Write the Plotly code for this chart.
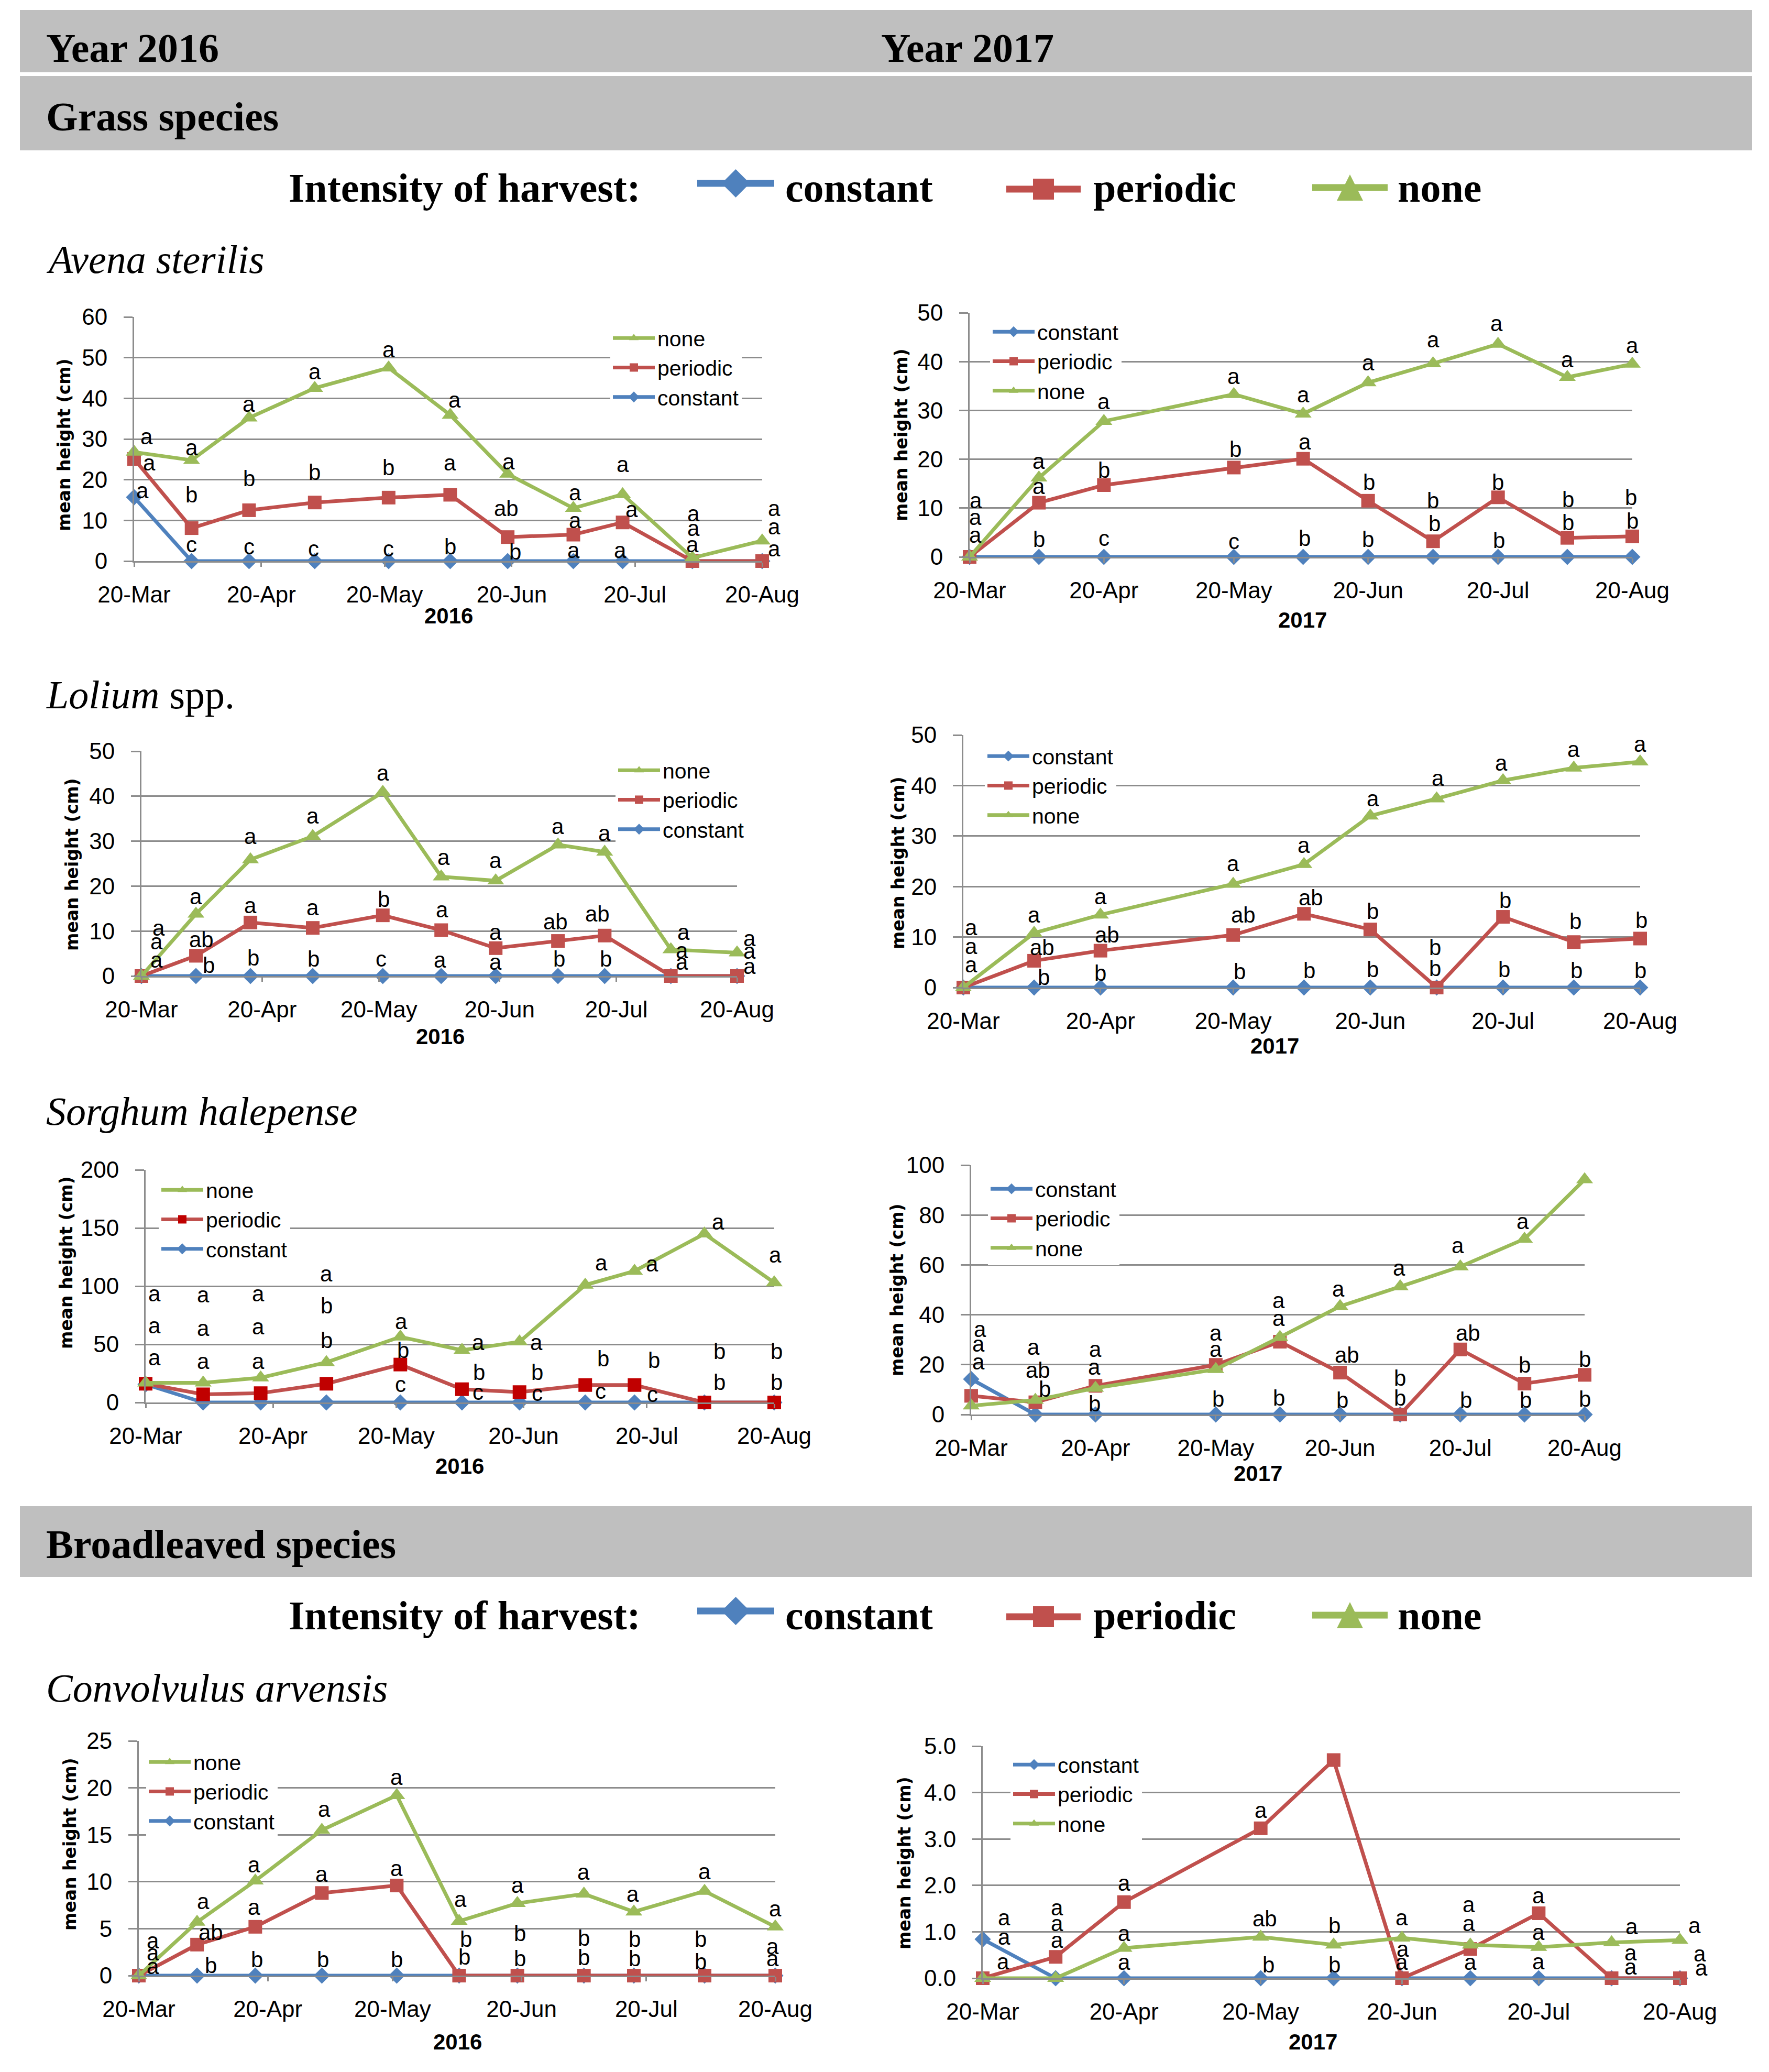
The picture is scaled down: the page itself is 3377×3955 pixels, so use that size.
import plotly.graph_objects as go

W, H = 3377, 3955
OFF = 8  # the page body adds an 8 px margin around the figure
BLUE, RED, GREEN = "#4F81BD", "#C0504D", "#9BBB59"
GRID = "#8C8C8C"
BAR = "#BFBFBF"
SERIF = "Liberation Serif"
SANS = "Liberation Sans"
WIDE = "Verdana, 'DejaVu Sans', 'Bitstream Vera Sans', sans-serif"

# ---------------------------------------------------------------- data
DATES_2016 = ["2016-03-20", "2016-04-03", "2016-04-17", "2016-05-03", "2016-05-21", "2016-06-05",
              "2016-06-19", "2016-07-05", "2016-07-17", "2016-08-03", "2016-08-20"]
DATES_2017 = ["2017-03-20", "2017-04-05", "2017-04-20", "2017-05-20", "2017-06-05",
              "2017-06-20", "2017-07-05", "2017-07-20", "2017-08-05", "2017-08-20"]
TICKS_2016 = ["2016-03-20", "2016-04-20", "2016-05-20", "2016-06-20", "2016-07-20", "2016-08-20"]
TICKS_2017 = ["2017-03-20", "2017-04-20", "2017-05-20", "2017-06-20", "2017-07-20", "2017-08-20"]

AVENA16_NONE = [26.8, 24.8, 35.2, 42.5, 47.5, 35.9, 21.4, 13.0, 16.4, 0.8, 5.0]
AVENA16_PERIODIC = [25.1, 8.1, 12.5, 14.4, 15.6, 16.3, 5.9, 6.5, 9.5, 0, 0]
AVENA16_CONSTANT = [15.7, 0, 0, 0, 0, 0, 0, 0, 0, 0, 0]

AVENA17_NONE = [0, 16.2, 27.8, 33.3, 29.3, 35.7, 39.6, 43.6, 36.8, 39.5]
AVENA17_PERIODIC = [0, 11.1, 14.7, 18.3, 20.1, 11.5, 3.2, 12.2, 3.9, 4.2]
AVENA17_CONSTANT = [0, 0, 0, 0, 0, 0, 0, 0, 0, 0]

LOLIUM16_NONE = [0, 13.8, 25.9, 31.1, 40.9, 22.1, 21.2, 29.2, 27.6, 5.9, 5.2]
LOLIUM16_PERIODIC = [0, 4.5, 11.9, 10.7, 13.5, 10.2, 6.2, 7.8, 9.0, 0, 0]
LOLIUM16_CONSTANT = [0, 0, 0, 0, 0, 0, 0, 0, 0, 0, 0]

LOLIUM17_NONE = [0, 10.8, 14.4, 20.5, 24.4, 34.0, 37.4, 41.0, 43.5, 44.7]
LOLIUM17_PERIODIC = [0, 5.3, 7.3, 10.4, 14.6, 11.5, 0, 14.0, 9.0, 9.7]
LOLIUM17_CONSTANT = [0, 0, 0, 0, 0, 0, 0, 0, 0, 0]

SORGHUM16_NONE = [16.9, 16.9, 21.3, 34.5, 56.4, 45.0, 52.2, 101, 113, 145, 103]
SORGHUM16_PERIODIC = [16.1, 7.0, 8.0, 16.1, 32.6, 11.4, 8.9, 15.0, 15.0, 0, 0]
SORGHUM16_CONSTANT = [15.6, 0, 0, 0, 0, 0, 0, 0, 0, 0, 0]

SORGHUM17_NONE = [3.5, 5.8, 10.6, 18.1, 31.0, 43.4, 51.3, 59.3, 70.4, 94.2]
SORGHUM17_PERIODIC = [7.5, 4.9, 11.5, 19.9, 29.2, 16.8, 0, 26.1, 12.4, 15.9]
SORGHUM17_CONSTANT = [14.2, 0, 0, 0, 0, 0, 0, 0, 0, 0]

CONVOLVULUS16_NONE = [0, 5.7, 10.1, 15.5, 19.2, 5.8, 7.7, 8.7, 6.8, 9.0, 5.2]
CONVOLVULUS16_PERIODIC = [0, 3.3, 5.2, 8.8, 9.6, 0, 0, 0, 0, 0, 0]
CONVOLVULUS16_CONSTANT = [0, 0, 0, 0, 0, 0, 0, 0, 0, 0, 0]

CONVOLVULUS17_NONE = [0, 0, 0.65, 0.89, 0.72, 0.87, 0.72, 0.67, 0.77, 0.82]
CONVOLVULUS17_PERIODIC = [0, 0.46, 1.64, 3.23, 4.70, 0, 0.63, 1.40, 0, 0]
CONVOLVULUS17_CONSTANT = [0.84, 0, 0, 0, 0, 0, 0, 0, 0, 0]

# significance letters: (date index, letter, height in cm, x nudge px)
AVENA16_LETTERS = [
    (0, "a", 30.6, 24), (0, "a", 24.1, 29), (0, "a", 17.3, 16),
    (1, "a", 27.9, 0), (1, "b", 16.3, 0), (1, "c", 4.1, 0),
    (2, "a", 38.5, 0), (2, "b", 20.3, 0), (2, "c", 3.5, 0),
    (3, "a", 46.6, 0), (3, "b", 21.8, 0), (3, "c", 3.0, -2),
    (4, "a", 52.0, 0), (4, "b", 23.0, 0), (4, "c", 3.0, 0),
    (5, "a", 39.6, 9), (5, "a", 24.1, 0), (5, "b", 3.5, 0),
    (6, "a", 24.4, 2), (6, "ab", 13.0, -3), (6, "b", 2.2, 14),
    (7, "a", 16.8, 3), (7, "a", 10.0, 3), (7, "a", 2.7, 0),
    (8, "a", 23.8, 0), (8, "a", 12.7, 17), (8, "a", 2.7, -5),
    (9, "a", 11.7, 2), (9, "a", 8.1, 2), (9, "a", 4.1, 0),
    (10, "a", 13.0, 23), (10, "a", 8.4, 23), (10, "a", 3.0, 23),
]
AVENA17_LETTERS = [
    (0, "a", 11.5, 12), (0, "a", 8.1, 11), (0, "a", 4.5, 11),
    (1, "a", 19.6, 0), (1, "a", 14.4, 0), (1, "b", 3.6, 0),
    (2, "a", 31.8, 0), (2, "b", 17.8, 0), (2, "c", 3.8, 0),
    (3, "a", 37.0, 0), (3, "b", 22.1, 3), (3, "c", 3.2, 0),
    (4, "a", 33.2, 0), (4, "a", 23.6, 3), (4, "b", 3.8, 3),
    (5, "a", 39.7, 0), (5, "b", 15.3, 2), (5, "b", 3.6, 0),
    (6, "a", 44.5, 0), (6, "b", 11.5, 0), (6, "b", 6.8, 3),
    (7, "a", 47.8, -3), (7, "b", 15.3, 0), (7, "b", 3.4, 2),
    (8, "a", 40.4, 0), (8, "b", 11.7, 2), (8, "b", 7.0, 2),
    (9, "a", 43.3, 0), (9, "b", 12.2, -3), (9, "b", 7.4, 0),
]
LOLIUM16_LETTERS = [
    (0, "a", 10.7, 33), (0, "a", 7.6, 29), (0, "a", 3.6, 29),
    (1, "a", 17.6, 0), (1, "ab", 8.1, 10), (1, "b", 2.4, 24),
    (2, "a", 31.1, 0), (2, "a", 15.7, 0), (2, "b", 4.0, 5),
    (3, "a", 35.6, 0), (3, "a", 15.2, 0), (3, "b", 3.8, 2),
    (4, "a", 45.2, 0), (4, "b", 17.1, 2), (4, "c", 3.8, -3),
    (5, "a", 26.4, 5), (5, "a", 14.7, 2), (5, "a", 3.6, -2),
    (6, "a", 25.7, 0), (6, "a", 9.7, 0), (6, "a", 3.1, 0),
    (7, "a", 33.3, 0), (7, "ab", 12.1, -5), (7, "b", 3.8, 2),
    (8, "a", 31.8, 0), (8, "ab", 13.8, -14), (8, "b", 3.8, 2),
    (9, "a", 9.7, 24), (9, "a", 5.7, 21), (9, "a", 3.1, 21),
    (10, "a", 8.3, 24), (10, "a", 5.5, 24), (10, "a", 2.1, 24),
]
LOLIUM17_LETTERS = [
    (0, "a", 11.9, 15), (0, "a", 8.1, 15), (0, "a", 4.5, 15),
    (1, "a", 14.4, 0), (1, "ab", 7.9, 15), (1, "b", 2.0, 18),
    (2, "a", 18.0, 0), (2, "ab", 10.4, 13), (2, "b", 2.9, 0),
    (3, "a", 24.5, 0), (3, "ab", 14.4, 19), (3, "b", 3.2, 12),
    (4, "a", 28.2, 0), (4, "ab", 17.8, 13), (4, "b", 3.4, 10),
    (5, "a", 37.4, 5), (5, "b", 15.1, 5), (5, "b", 3.6, 5),
    (6, "a", 41.4, 2), (6, "b", 7.9, -3), (6, "b", 3.8, -3),
    (7, "a", 44.4, -3), (7, "b", 17.3, 4), (7, "b", 3.6, 2),
    (8, "a", 47.1, 0), (8, "b", 13.1, 3), (8, "b", 3.4, 5),
    (9, "a", 48.2, 0), (9, "b", 13.3, 2), (9, "b", 3.4, 0),
]
SORGHUM16_LETTERS = [
    (0, "a", 93.4, 17), (0, "a", 65.8, 17), (0, "a", 38.3, 17),
    (1, "a", 92.4, 0), (1, "a", 63.9, 0), (1, "a", 35.5, 0),
    (2, "a", 93.4, -5), (2, "a", 64.9, -5), (2, "a", 35.5, -5),
    (3, "a", 110.4, 0), (3, "b", 82.9, 0), (3, "b", 53.5, 0),
    (4, "a", 69.6, 2), (4, "b", 45.0, 5), (4, "c", 15.6, 0),
    (5, "a", 51.6, 31), (5, "b", 26.0, 33), (5, "c", 8.9, 31),
    (6, "a", 51.6, 32), (6, "b", 26.0, 34), (6, "c", 8.0, 34),
    (7, "a", 120.0, 31), (7, "b", 37.4, 34), (7, "c", 9.9, 29),
    (8, "a", 119.0, 34), (8, "b", 36.4, 37), (8, "c", 7.0, 34),
    (9, "a", 155.0, 26), (9, "b", 44.0, 29), (9, "b", 17.5, 29),
    (10, "a", 126.6, 2), (10, "b", 44.0, 4), (10, "b", 17.5, 4),
]
SORGHUM17_LETTERS = [
    (0, "a", 34.1, 17), (0, "a", 28.3, 14), (0, "a", 21.2, 14),
    (1, "a", 27.0, -3), (1, "ab", 17.7, 5), (1, "b", 10.2, 18),
    (2, "a", 26.1, 0), (2, "a", 19.0, -2), (2, "b", 4.4, -2),
    (3, "a", 32.7, 0), (3, "a", 26.1, 0), (3, "b", 6.2, 5),
    (4, "a", 45.6, -2), (4, "a", 38.5, -2), (4, "b", 6.6, -2),
    (5, "a", 50.4, -3), (5, "ab", 23.9, 13), (5, "b", 5.8, 4),
    (6, "a", 58.8, -2), (6, "b", 14.6, 0), (6, "b", 6.6, 0),
    (7, "a", 67.7, -5), (7, "ab", 32.7, 15), (7, "b", 5.8, 11),
    (8, "a", 77.4, -3), (8, "b", 19.9, 0), (8, "b", 5.8, 2),
    (9, "a", 102.2, -3), (9, "b", 22.1, 0), (9, "b", 6.2, 0),
]
CONVOLVULUS16_LETTERS = [
    (0, "a", 3.7, 27), (0, "a", 2.4, 27), (0, "a", 1.0, 27),
    (1, "a", 7.9, 12), (1, "ab", 4.6, 26), (1, "b", 1.1, 26),
    (2, "a", 11.8, -2), (2, "a", 7.3, -2), (2, "b", 1.7, 3),
    (3, "a", 17.7, 5), (3, "a", 10.8, 0), (3, "b", 1.7, 2),
    (4, "a", 21.1, 0), (4, "a", 11.4, 0), (4, "b", 1.7, 0),
    (5, "a", 8.1, 3), (5, "b", 3.9, 13), (5, "b", 2.0, 10),
    (6, "a", 9.6, 0), (6, "b", 4.5, 5), (6, "b", 1.8, 5),
    (7, "a", 11.0, -1), (7, "b", 4.0, 0), (7, "b", 1.9, 0),
    (8, "a", 8.7, -2), (8, "b", 3.9, 1), (8, "b", 1.8, 1),
    (9, "a", 11.1, 0), (9, "b", 3.9, -8), (9, "b", 1.5, -8),
    (10, "a", 7.1, 0), (10, "a", 3.1, -5), (10, "a", 1.8, -5),
]
CONVOLVULUS17_LETTERS = [
    (0, "a", 1.30, 41), (0, "a", 0.89, 41), (0, "a", 0.36, 39),
    (1, "a", 1.52, 3), (1, "a", 1.18, 3), (1, "a", 0.82, 3),
    (2, "a", 2.05, 0), (2, "a", 0.96, 0), (2, "a", 0.34, 0),
    (3, "a", 3.62, 0), (3, "ab", 1.28, 8), (3, "b", 0.29, 15),
    (4, "a", 5.06, 0), (4, "b", 1.13, 2), (4, "b", 0.29, 2),
    (5, "a", 1.30, 0), (5, "a", 0.63, 2), (5, "a", 0.34, 0),
    (6, "a", 1.59, -3), (6, "a", 1.18, -3), (6, "a", 0.34, 0),
    (7, "a", 1.78, 0), (7, "a", 0.99, 0), (7, "a", 0.36, 0),
    (8, "a", 1.11, 38), (8, "a", 0.55, 36), (8, "a", 0.24, 36),
    (9, "a", 1.13, 28), (9, "a", 0.53, 38), (9, "a", 0.22, 41),
]


def fx(x):
    return (x - OFF) / W


def fy(y):
    return 1 - (y - OFF) / H


# ---------------------------------------------------------------- panel layout (pixel boxes)
PANELS = [
    dict(year="2016", dates=DATES_2016, ticks=TICKS_2016, ymax=60, dtick=10,
         series=(AVENA16_CONSTANT, AVENA16_PERIODIC, AVENA16_NONE), letters=AVENA16_LETTERS,
         box=(256, 1455, 605, 1071), legend=(1165, 612), ytitle=(122, 849), xtitle=(856, 1175)),
    dict(year="2017", dates=DATES_2017, ticks=TICKS_2017, ymax=50, dtick=10,
         series=(AVENA17_CONSTANT, AVENA17_PERIODIC, AVENA17_NONE), letters=AVENA17_LETTERS,
         box=(1851, 3116, 597, 1063), legend=(1890, 600), ytitle=(1720, 830), xtitle=(2486, 1183)),
    dict(year="2016", dates=DATES_2016, ticks=TICKS_2016, ymax=50, dtick=10,
         series=(LOLIUM16_CONSTANT, LOLIUM16_PERIODIC, LOLIUM16_NONE), letters=LOLIUM16_LETTERS,
         box=(270, 1407, 1434, 1863), legend=(1175, 1437), ytitle=(137, 1650), xtitle=(840, 1978)),
    dict(year="2017", dates=DATES_2017, ticks=TICKS_2017, ymax=50, dtick=10,
         series=(LOLIUM17_CONSTANT, LOLIUM17_PERIODIC, LOLIUM17_NONE), letters=LOLIUM17_LETTERS,
         box=(1839, 3131, 1403, 1885), legend=(1880, 1410), ytitle=(1715, 1647), xtitle=(2433, 1997)),
    dict(year="2016", dates=DATES_2016, ticks=TICKS_2016, ymax=200, dtick=50,
         series=(SORGHUM16_CONSTANT, SORGHUM16_PERIODIC, SORGHUM16_NONE), letters=SORGHUM16_LETTERS,
         box=(278, 1478, 2233, 2677), legend=(303, 2238), ytitle=(126, 2410), xtitle=(877, 2798),
         periodic_marker="#C00000"),
    dict(year="2017", dates=DATES_2017, ticks=TICKS_2017, ymax=100, dtick=20,
         series=(SORGHUM17_CONSTANT, SORGHUM17_PERIODIC, SORGHUM17_NONE), letters=SORGHUM17_LETTERS,
         box=(1854, 3025, 2224, 2700), legend=(1886, 2236), ytitle=(1712, 2462), xtitle=(2401, 2812)),
    dict(year="2016", dates=DATES_2016, ticks=TICKS_2016, ymax=25, dtick=5,
         series=(CONVOLVULUS16_CONSTANT, CONVOLVULUS16_PERIODIC, CONVOLVULUS16_NONE),
         letters=CONVOLVULUS16_LETTERS,
         box=(265, 1480, 3323, 3771), legend=(279, 3330), ytitle=(133, 3520), xtitle=(874, 3897)),
    dict(year="2017", dates=DATES_2017, ticks=TICKS_2017, ymax=5, dtick=1, yfmt=".1f",
         series=(CONVOLVULUS17_CONSTANT, CONVOLVULUS17_PERIODIC, CONVOLVULUS17_NONE),
         letters=CONVOLVULUS17_LETTERS,
         box=(1876, 3207, 3333, 3776), legend=(1929, 3335), ytitle=(1726, 3556), xtitle=(2506, 3897)),
]

STYLES = [("constant", BLUE, "diamond", 24), ("periodic", RED, "square", 26), ("none", GREEN, "triangle-up", 28)]

fig = go.Figure()
layout = {}
annotations = []
shapes = []

for n, p in enumerate(PANELS, start=1):
    sfx = "" if n == 1 else str(n)
    xa, ya, leg = "x" + sfx, "y" + sfx, "legend" + sfx
    x0, x1, yt, yb = p["box"]

    for (name, color, symbol, size), values in zip(STYLES, p["series"]):
        mcolor = p.get("periodic_marker", color) if name == "periodic" else color
        fig.add_trace(go.Scatter(
            x=p["dates"], y=values, name=name, mode="lines+markers",
            line=dict(color=color, width=7),
            marker=dict(symbol=symbol, size=size, color=mcolor, line=dict(width=0)),
            xaxis=xa, yaxis=ya, legend=leg, cliponaxis=False,
        ))

    layout["xaxis" + sfx] = dict(
        domain=[fx(x0), fx(x1)], anchor=ya, type="date",
        range=[p["dates"][0], p["dates"][-1]], tickvals=p["ticks"], tickformat="%d-%b",
        showgrid=False, zeroline=False, showline=True, linecolor=GRID, linewidth=3,
        ticks="outside", ticklen=8, tickwidth=3, tickcolor=GRID, ticklabelstandoff=15,
        tickfont=dict(family=SANS, size=44, color="black"),
    )
    layout["yaxis" + sfx] = dict(
        domain=[fy(yb), fy(yt)], anchor=xa, range=[0, p["ymax"]], dtick=p["dtick"],
        tickformat=p.get("yfmt", ""),
        showgrid=True, gridcolor=GRID, gridwidth=3, zeroline=False,
        showline=True, linecolor=GRID, linewidth=3,
        ticks="outside", ticklen=17, tickwidth=3, tickcolor=GRID, ticklabelstandoff=22,
        tickfont=dict(family=SANS, size=44, color="black"),
    )
    lx, ly = p["legend"]
    layout[leg] = dict(
        x=fx(lx), y=fy(ly), xanchor="left", yanchor="top", bgcolor="white", borderwidth=0,
        traceorder="reversed" if p["year"] == "2016" else "normal",
        font=dict(family=SANS, size=41, color="black"), itemwidth=80, tracegroupgap=0,
    )

    for i, txt, yv, dx in p["letters"]:
        annotations.append(dict(
            x=p["dates"][i], y=yv, xref=xa, yref=ya, text=txt, showarrow=False, xshift=dx,
            xanchor="center", yanchor="middle", font=dict(family=SANS, size=42, color="black"),
        ))

    tx, ty = p["ytitle"]
    annotations.append(dict(
        x=fx(tx), y=fy(ty), xref="paper", yref="paper", text="<b>mean height (cm)</b>",
        textangle=-90, showarrow=False, xanchor="center", yanchor="middle",
        font=dict(family=WIDE, size=33, color="black"),
    ))
    tx, ty = p["xtitle"]
    annotations.append(dict(
        x=fx(tx), y=fy(ty), xref="paper", yref="paper", text="<b>" + p["year"] + "</b>",
        showarrow=False, xanchor="center", yanchor="middle",
        font=dict(family=SANS, size=42, color="black"),
    ))

# ---------------------------------------------------------------- header bars and section texts
for top, bottom in [(19, 138), (145, 287), (2875, 3010)]:
    shapes.append(dict(type="rect", xref="paper", yref="paper", x0=fx(38), x1=fx(3345),
                       y0=fy(bottom), y1=fy(top), fillcolor=BAR, line=dict(width=0), layer="below"))


def head_text(x, baseline, text, size=78):
    annotations.append(dict(
        x=fx(x), y=fy(baseline - 0.3 * size), xref="paper", yref="paper", text=text,
        xanchor="left", yanchor="middle", showarrow=False,
        font=dict(family=SERIF, size=size, color="black"),
    ))


head_text(86, 115, "<b>Year 2016</b>")
head_text(1680, 115, "<b>Year 2017</b>")
head_text(86, 246, "<b>Grass species</b>")
head_text(86, 2971, "<b>Broadleaved species</b>")
head_text(86, 518, "<i>Avena sterilis</i>", 76)
head_text(86, 1349, "<i>Lolium</i> spp.", 76)
head_text(86, 2144, "<i>Sorghum halepense</i>", 76)
head_text(86, 3245, "<i>Convolvulus arvensis</i>", 76)


def key_path(kind, cx, cy, r):
    if kind == "diamond":
        pts = [(cx, cy - r), (cx + r, cy), (cx, cy + r), (cx - r, cy)]
    elif kind == "square":
        pts = [(cx - r, cy - r), (cx + r, cy - r), (cx + r, cy + r), (cx - r, cy + r)]
    else:
        pts = [(cx, cy - r), (cx + r, cy + r), (cx - r, cy + r)]
    return "M" + " L".join(f"{fx(a):.5f},{fy(b):.5f}" for a, b in pts) + " Z"


# big "Intensity of harvest" keys (one per section)
for baseline in (382, 3107):
    head_text(549, baseline, "<b>Intensity of harvest:</b>")
    for (name, color, kind, r), (lx0, lx1, tx, dy) in zip(
            [("constant", BLUE, "diamond", 27), ("periodic", RED, "square", 20), ("none", GREEN, "triangle", 25)],
            [(1331, 1478, 1497, -32), (1921, 2063, 2085, -21), (2505, 2649, 2666, -24)]):
        cy = baseline + dy
        shapes.append(dict(type="line", xref="paper", yref="paper", x0=fx(lx0), x1=fx(lx1),
                           y0=fy(cy), y1=fy(cy), line=dict(color=color, width=13)))
        shapes.append(dict(type="path", xref="paper", yref="paper", path=key_path(kind, (lx0 + lx1) / 2, cy, r),
                           fillcolor=color, line=dict(width=0)))
        head_text(tx, baseline, "<b>" + name + "</b>")

fig.update_layout(
    width=W, height=H, margin=dict(l=0, r=0, t=0, b=0, autoexpand=False),
    paper_bgcolor="white", plot_bgcolor="white",
    font=dict(family=SANS, color="black"),
    annotations=annotations, shapes=shapes, **layout,
)

fig.write_html("out.html")
